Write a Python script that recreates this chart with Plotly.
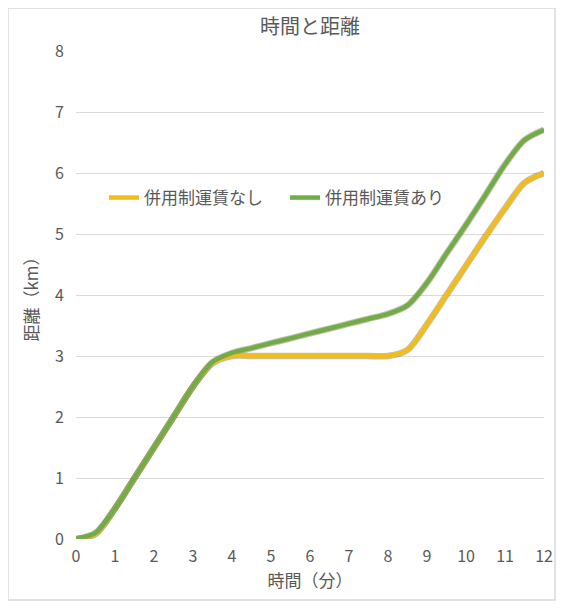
import plotly.graph_objects as go

# Data
minutes = [0, 0.5, 1, 1.5, 2, 2.5, 3, 3.5, 4, 4.5, 5, 5.5, 6, 6.5, 7, 7.5, 8, 8.5, 9, 9.5, 10, 10.5, 11, 11.5, 12]
dist_without = [0, 0.08, 0.5, 1.0, 1.5, 2.0, 2.5, 2.88, 3.0, 3.0, 3.0, 3.0, 3.0, 3.0, 3.0, 3.0, 3.0, 3.1, 3.52, 4.0, 4.48, 4.96, 5.42, 5.84, 6.0]
dist_with = [0, 0.1, 0.5, 1.0, 1.5, 2.0, 2.5, 2.9, 3.05, 3.13, 3.21, 3.29, 3.37, 3.45, 3.53, 3.61, 3.69, 3.83, 4.2, 4.68, 5.15, 5.64, 6.14, 6.54, 6.71]
name_without = "併用制運賃なし"
name_with = "併用制運賃あり"
x_ticks = list(range(0, 13))
y_ticks = list(range(0, 9))

FONT = "Noto Sans CJK JP"
GRAY = "#595959"
W, H = 548, 593
L, R, T, B = 68, 12, 43, 62
PW, PH = W - L - R, H - T - B

fig = go.Figure()
for ys in (dist_without, dist_with):
    fig.add_trace(go.Scatter(x=minutes, y=ys, mode="lines", showlegend=False, hoverinfo="skip",
                             line=dict(color="rgba(90,70,20,0.35)", width=6.5, shape="spline", smoothing=0.8)))
fig.add_trace(go.Scatter(x=minutes, y=dist_without, mode="lines", name=name_without,
                         line=dict(color="#F2BC1B", width=4.5, shape="spline", smoothing=0.8)))
fig.add_trace(go.Scatter(x=minutes, y=dist_with, mode="lines", name=name_with,
                         line=dict(color="#70AD47", width=4.5, shape="spline", smoothing=0.8)))

fig.update_layout(
    width=W, height=H,
    margin=dict(l=L, r=R, t=T, b=B),
    paper_bgcolor="white", plot_bgcolor="white",
    font=dict(family=FONT, color=GRAY, size=16),
    title=dict(text="時間と距離", x=0.5, xref="paper", xanchor="center",
               y=1 - 19 / H, yanchor="middle",
               font=dict(family=FONT, size=20, color=GRAY)),
    xaxis=dict(range=[0, 12], tickvals=x_ticks, showgrid=False, zeroline=False, showline=False,
               ticks="", tickfont=dict(size=16, color=GRAY), automargin=False, ticklabelstandoff=6,
               title=dict(text="時間（分）", font=dict(size=17, color=GRAY), standoff=8)),
    yaxis=dict(range=[0, 8], tickvals=y_ticks, showgrid=True, gridcolor="#D9D9D9", gridwidth=1,
               zeroline=False, showline=False, ticks="", ticklabelstandoff=11, automargin=False,
               tickfont=dict(size=16, color=GRAY),
               title=dict(text="距離（km）", font=dict(size=17, color=GRAY), standoff=12)),
    legend=dict(orientation="h", x=(96 - L) / PW, y=1 - (190 - T) / PH, xanchor="left", yanchor="middle",
                bgcolor="rgba(0,0,0,0)", font=dict(size=17, color=GRAY), itemwidth=30,
                entrywidth=136, entrywidthmode="pixels"),
    shapes=[dict(type="rect", xref="paper", yref="paper", x0=-L / PW, x1=1 + (R - 1) / PW,
                 y0=-(B - 1) / PH, y1=1 + T / PH,
                 line=dict(color="#D9D9D9", width=1.5), fillcolor="rgba(0,0,0,0)")],
)

fig.write_html("out.html")
